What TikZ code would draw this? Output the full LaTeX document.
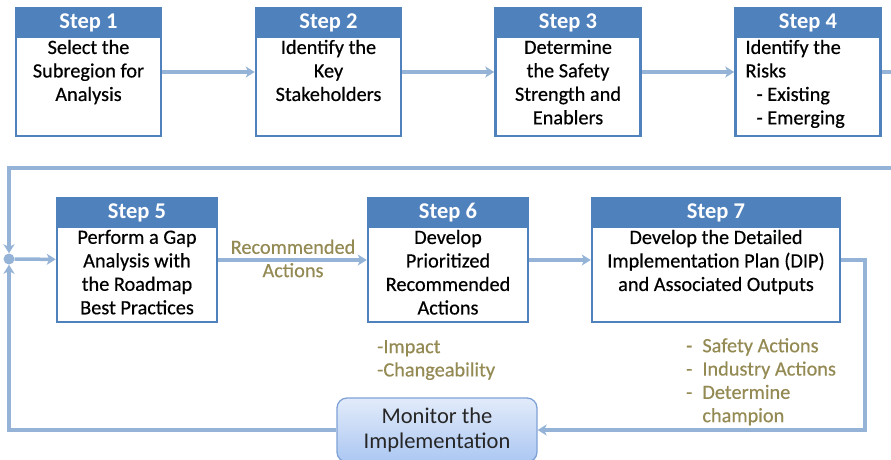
\documentclass[tikz,border=0pt]{standalone}
\usepackage{fontspec}
\setmainfont{Carlito}
\newfontfamily\bodyfont[FakeBold=0.45]{Carlito}
\usetikzlibrary{arrows.meta,calc}
\definecolor{hdr}{HTML}{4F81BD}
\definecolor{conn}{HTML}{95B3D7}
\definecolor{olive}{HTML}{948A54}
\definecolor{montop}{HTML}{E2EBFA}
\definecolor{monbot}{HTML}{ABC7F2}
\definecolor{monb}{HTML}{7FA2D6}
\definecolor{montext}{HTML}{262626}
\tikzset{
  stepbox/.style={draw=hdr, line width=2.5pt, fill=white, inner sep=0pt, minimum height=#1},
  stepbox/.default=128pt,
  hdrbox/.style={fill=hdr, text=white, inner sep=0pt, minimum height=31pt, anchor=north,
    font=\bfseries\fontsize{22.5}{24}\selectfont},
  bodytext/.style={inner sep=0pt, anchor=north, align=center, text=black,
    font=\bodyfont\fontsize{20.3}{23.5}\selectfont},
  conn/.style={draw=conn, line width=3.5pt, -{Stealth[length=9pt,width=11pt,inset=2.5pt]}},
  note/.style={text=olive, inner sep=0pt, align=left, font=\bodyfont\fontsize{20.3}{23.3}\selectfont},
  monbox/.style={draw=monb, line width=1.3pt, rounded corners=10pt, top color=montop,
    bottom color=monbot, align=center, text=montext, inner sep=0pt,
    font=\fontsize{22.5}{25}\selectfont},
}
\begin{document}
\begin{tikzpicture}[x=1pt,y=-1pt]
\useasboundingbox (0,0) rectangle (891,459);
\clip (0,0) rectangle (891,459);
% row 1 boxes
\node[stepbox, minimum width=145pt] (s1) at (88.5,72) {};
\node[stepbox, minimum width=145pt] (s2) at (328.5,72) {};
\node[stepbox, minimum width=145pt] (s3) at (568,72) {};
\node[stepbox, minimum width=145pt] (s4) at (808,72) {};
\node[hdrbox, minimum width=145pt] (h1) at (s1.north) {Step 1};
\node[hdrbox, minimum width=145pt] (h2) at (s2.north) {Step 2};
\node[hdrbox, minimum width=145pt] (h3) at (s3.north) {Step 3};
\node[hdrbox, minimum width=145pt] (h4) at (s4.north) {Step 4};
\node[bodytext] (b1) at ($(h1.south)+(0,1.5)$) {Select the\\Subregion for\\Analysis};
\node[bodytext] (b2) at ($(h2.south)+(0,1.5)$) {Identify the\\Key\\Stakeholders};
\node[bodytext] (b3) at ($(h3.south)+(0,1.5)$) {Determine\\the Safety\\Strength and\\Enablers};
\node[bodytext, anchor=north west, align=left] (b4) at ($(h4.south west)+(10,1.5)$) {Identify the\\Risks\\\hspace{11pt}- Existing\\\hspace{11pt}- Emerging};
% row 2 boxes
\node[stepbox=124pt, minimum width=160pt] (s5) at (137,260) {};
\node[stepbox=124pt, minimum width=160pt] (s6) at (448,260) {};
\node[stepbox=124pt, minimum width=248pt] (s7) at (716,260) {};
\node[hdrbox, minimum width=160pt] (h5) at (s5.north) {Step 5};
\node[hdrbox, minimum width=160pt] (h6) at (s6.north) {Step 6};
\node[hdrbox, minimum width=248pt] (h7) at (s7.north) {Step 7};
\node[bodytext] (b5) at ($(h5.south)+(0,1.5)$) {Perform a Gap\\Analysis with\\the Roadmap\\Best Practices};
\node[bodytext] (b6) at ($(h6.south)+(0,1.5)$) {Develop\\Prioritized\\Recommended\\Actions};
\node[bodytext] (b7) at ($(h7.south)+(0,1.5)$) {Develop the Detailed\\Implementation Plan (DIP)\\and Associated Outputs};
% monitor
\node[monbox, minimum width=200pt, minimum height=64pt] (mon) at (437,430) {Monitor the\\Implementation};
% junction dot
\node[circle, fill=conn, minimum size=11pt, inner sep=0pt] (dot) at (9,259) {};
% coordinates
\coordinate (tr) at (898,168);
\coordinate (tl) at (9,168);
\coordinate (bl) at (9,430);
\coordinate (r7) at (865,430);
% connectors
\draw[conn] (s1) -- (s2);
\draw[conn] (s2) -- (s3);
\draw[conn] (s3) -- (s4);
\draw[conn] (s4.east) -| (tr) -- (tl) -- (dot.north);
\draw[conn] (dot) -- (s5);
\draw[conn] (s5) -- (s6);
\draw[conn] (s6) -- (s7);
\draw[conn] (s7.east) -| (r7) -- (mon.east);
\draw[conn] (mon.west) -- (bl) -- (dot.south);
% labels
\node[note, align=center] (lab) at (293,258.5) {Recommended\\Actions};
\node[note, anchor=west] (n6) at (377,360) {-Impact\\-Changeability};
\node[note, anchor=north west] (n7) at (686,338) {-\hspace{10pt}Safety Actions\\-\hspace{10pt}Industry Actions\\-\hspace{10pt}Determine\\\hphantom{-}\hspace{10pt}champion};
\end{tikzpicture}
\end{document}
